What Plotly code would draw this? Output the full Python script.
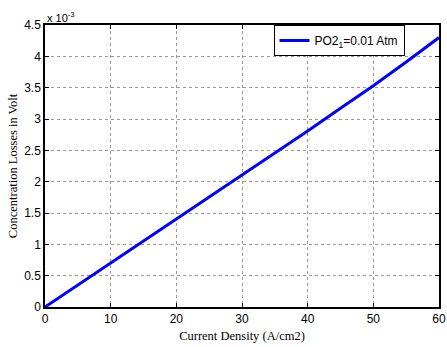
import plotly.graph_objects as go

current_density = [0, 5, 10, 15, 20, 25, 30, 35, 40, 45, 50, 55, 60]
conc_losses_e3 = [0, 0.35, 0.70, 1.05, 1.40, 1.75, 2.10, 2.46, 2.81, 3.17, 3.53, 3.91, 4.30]
x_ticks = [0, 10, 20, 30, 40, 50, 60]
y_ticks = [0, 0.5, 1, 1.5, 2, 2.5, 3, 3.5, 4, 4.5]
y_tick_text = ["0", "0.5", "1", "1.5", "2", "2.5", "3", "3.5", "4", "4.5"]

fig = go.Figure()
fig.add_trace(go.Scatter(
    x=current_density, y=conc_losses_e3, mode="lines",
    line=dict(color="#0000ff", width=3),
    name="PO2<sub>1</sub>=0.01 Atm",
))

axis_common = dict(
    showline=True, linecolor="black", linewidth=1.5, mirror="ticks",
    ticks="inside", ticklen=4, tickcolor="black",
    showgrid=True, gridcolor="#999999", griddash="dot", gridwidth=1,
    zeroline=False, automargin=False, ticklabeloverflow="allow",
    tickfont=dict(family="Liberation Sans, Arial", size=12, color="black"),
)

fig.update_layout(
    width=447, height=347,
    margin=dict(l=45, r=8, t=25, b=40),
    paper_bgcolor="white", plot_bgcolor="white",
    xaxis=dict(range=[0, 60], tickvals=x_ticks,
               title=dict(text="Current Density (A/cm2)", standoff=6,
                          font=dict(family="Liberation Serif, Times New Roman", size=12.5, color="black")),
               **axis_common),
    yaxis=dict(range=[0, 4.5], tickvals=y_ticks, ticktext=y_tick_text,
               title=dict(text="Concentration Losses in Volt", standoff=4,
                          font=dict(family="Liberation Serif, Times New Roman", size=12.5, color="black")),
               **axis_common),
    legend=dict(x=0.58, y=1.0, xanchor="left", yanchor="top",
                bgcolor="white", bordercolor="black", borderwidth=1,
                itemwidth=30,
                font=dict(family="Liberation Sans, Arial", size=12, color="black")),
    showlegend=True,
    annotations=[dict(text="x 10<sup>-3</sup>", x=0, y=1, xref="paper", yref="paper",
                      xanchor="left", yanchor="bottom", showarrow=False, yshift=-1,
                      font=dict(family="Liberation Sans, Arial", size=11, color="black"))],
)

fig.write_html("out.html")
